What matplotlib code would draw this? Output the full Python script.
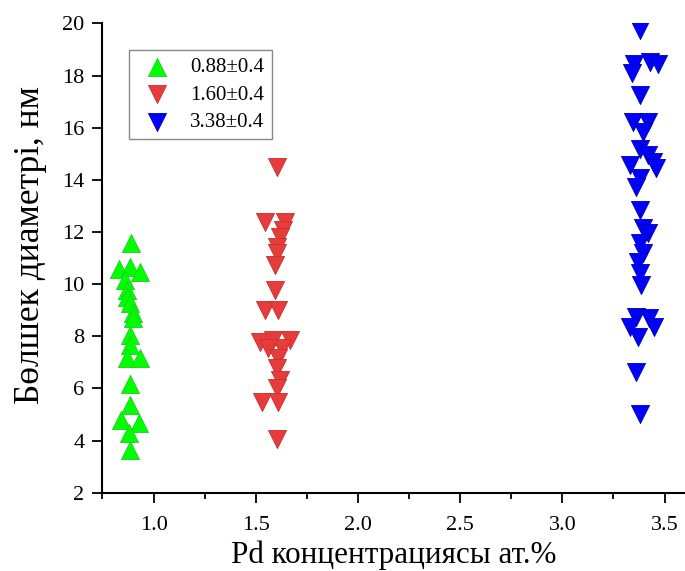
import matplotlib.pyplot as plt
from matplotlib.ticker import MultipleLocator

plt.rcParams['font.family'] = ['Liberation Serif', 'DejaVu Serif']

# точки по группам (концентрация Pd, диаметр частиц)
green_x = [0.89, 0.83, 0.886, 0.935, 0.86, 0.87, 0.87, 0.886, 0.90, 0.90, 0.886, 0.886,
           0.87, 0.935, 0.886, 0.886, 0.84, 0.93, 0.88, 0.886]
green_y = [11.56, 10.6, 10.67, 10.47, 10.15, 9.77, 9.5, 9.26, 8.9, 8.69, 8.05, 7.66,
           7.15, 7.15, 6.19, 5.36, 4.79, 4.66, 4.28, 3.64]

red_x = [1.603, 1.546, 1.643, 1.635, 1.62, 1.603, 1.603, 1.595, 1.595, 1.546, 1.61,
         1.52, 1.586, 1.668, 1.627, 1.56, 1.61, 1.603, 1.62, 1.603, 1.53, 1.61, 1.603]
red_y = [14.5, 12.39, 12.39, 12.07, 11.82, 11.43, 11.18, 10.73, 9.77, 9.0, 9.0,
         7.79, 7.85, 7.85, 7.54, 7.54, 7.15, 6.77, 6.32, 6.0, 5.49, 5.49, 4.05]

blue_x = [3.378, 3.35, 3.43, 3.47, 3.34, 3.378, 3.345, 3.418, 3.394, 3.378, 3.418,
          3.443, 3.33, 3.46, 3.378, 3.36, 3.378, 3.394, 3.418, 3.378, 3.394, 3.37,
          3.378, 3.386, 3.36, 3.426, 3.45, 3.33, 3.37, 3.36, 3.378]
blue_y = [19.74, 18.46, 18.53, 18.46, 18.08, 17.25, 16.23, 16.23, 15.84, 15.2, 14.95,
          14.69, 14.56, 14.44, 14.06, 13.73, 12.84, 12.14, 11.95, 11.56, 11.18, 10.86,
          10.41, 9.96, 8.75, 8.69, 8.37, 8.37, 7.98, 6.64, 5.04]

labels = ['0.88±0.4', '1.60±0.4', '3.38±0.4']

fig = plt.figure(figsize=(6.85, 5.71), dpi=100)
ax = fig.add_axes([0.1496, 0.137, 0.8504, 0.822])

ax.scatter(green_x, green_y, marker='^', s=170, color='#00ff00', edgecolors='#22cc22',
           linewidths=0.6, label=labels[0], zorder=3)
ax.scatter(red_x, red_y, marker='v', s=170, color='#e63c3c', edgecolors='#c83030',
           linewidths=0.6, label=labels[1], zorder=3)
ax.scatter(blue_x, blue_y, marker='v', s=170, color='#0000ff', edgecolors='#0000aa',
           linewidths=0.6, label=labels[2], zorder=3)

ax.set_xlim(0.75, 3.6)
ax.set_ylim(2, 20)
ax.xaxis.set_major_locator(MultipleLocator(0.5))
ax.xaxis.set_minor_locator(MultipleLocator(0.25))
ax.yaxis.set_major_locator(MultipleLocator(2))

for side in ['top', 'right']:
    ax.spines[side].set_visible(False)
for side in ['left', 'bottom']:
    ax.spines[side].set_linewidth(1.5)

ax.tick_params(axis='both', which='major', direction='out', length=7, width=1.3,
               labelsize=16, pad=6)
ax.tick_params(axis='x', which='minor', direction='out', length=4, width=1.3)
ax.tick_params(axis='x', which='major', pad=10)

ax.set_xlabel('Pd концентрациясы ат.%', fontsize=22.4, labelpad=4)
ax.set_ylabel('Бөлшек диаметрі, нм', fontsize=25.5)
ax.yaxis.set_label_coords(-0.095, 0.528)

leg = ax.legend(loc='upper left', bbox_to_anchor=(0.0455, 0.943), borderaxespad=0,
                fontsize=15, fancybox=False, edgecolor='#888888', framealpha=1,
                handlelength=2.0, handletextpad=0.58, borderpad=0.35,
                labelspacing=0.38, scatterpoints=1)
leg.get_frame().set_linewidth(1.0)

fig.savefig('out.png', dpi=100)
